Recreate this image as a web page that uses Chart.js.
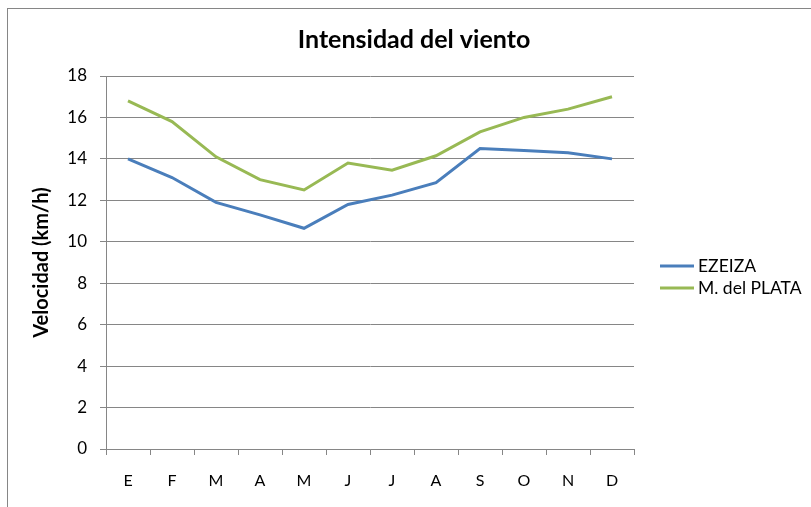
<!DOCTYPE html>
<html>
<head>
<meta charset="utf-8">
<script src="https://cdn.jsdelivr.net/npm/chart.js@4/dist/chart.umd.min.js"></script>
<style>
  html, body { margin: 0; padding: 0; background: #fff; overflow: hidden; }
  #wrap { position: relative; width: 811px; height: 507px; }
  #frame { position: absolute; left: 7px; top: 8px; width: 900px; height: 600px; border: 1px solid #868686; box-sizing: border-box; }
  canvas { position: absolute; left: 0; top: 0; }
</style>
</head>
<body>
<div id="wrap">
  <div id="frame"></div>
  <canvas id="c" width="811" height="507"></canvas>
</div>
<script>
const chartTitle = 'Intensidad del viento';
const yAxisTitle = 'Velocidad (km/h)';
const months = ['E', 'F', 'M', 'A', 'M', 'J', 'J', 'A', 'S', 'O', 'N', 'D'];
const seriesNames = ['EZEIZA', 'M. del PLATA'];
const ezeiza = [14.0, 13.1, 11.9, 11.3, 10.65, 11.8, 12.25, 12.85, 14.5, 14.4, 14.3, 14.0];
const marDelPlata = [16.8, 15.8, 14.1, 13.0, 12.5, 13.8, 13.45, 14.15, 15.3, 16.0, 16.4, 17.0];
const yTicks = [0, 2, 4, 6, 8, 10, 12, 14, 16, 18];

const FONT = 'Lato, "Open Sans", "Liberation Sans", sans-serif';
const GRID = '#868686';
const COLORS = ['#4A7EBB', '#98B954'];

const titlePlugin = {
  id: 'customTitle',
  afterDraw(chart) {
    const ctx = chart.ctx;
    ctx.save();
    ctx.font = 'bold 25px ' + FONT;
    ctx.fillStyle = '#000';
    ctx.textAlign = 'center';
    ctx.textBaseline = 'middle';
    ctx.fillText(chartTitle, 414, 40);
    ctx.restore();
  }
};

const legendPlugin = {
  id: 'customLegend',
  afterDraw(chart) {
    const ctx = chart.ctx;
    ctx.save();
    ctx.font = '17.5px ' + FONT;
    ctx.textBaseline = 'middle';
    ctx.textAlign = 'left';
    chart.data.datasets.forEach((ds, i) => {
      const y = 266 + i * 22;
      ctx.strokeStyle = ds.borderColor;
      ctx.lineWidth = 3;
      ctx.beginPath();
      ctx.moveTo(660, y);
      ctx.lineTo(694, y);
      ctx.stroke();
      ctx.fillStyle = '#000';
      ctx.fillText(ds.label, 698, y);
    });
    ctx.restore();
  }
};

new Chart(document.getElementById('c'), {
  type: 'line',
  data: {
    labels: months,
    datasets: [
      { label: seriesNames[0], data: ezeiza, borderColor: COLORS[0], backgroundColor: COLORS[0], borderWidth: 3, pointRadius: 0, tension: 0 },
      { label: seriesNames[1], data: marDelPlata, borderColor: COLORS[1], backgroundColor: COLORS[1], borderWidth: 3, pointRadius: 0, tension: 0 }
    ]
  },
  options: {
    responsive: false,
    animation: false,
    devicePixelRatio: 1,
    layout: { padding: { top: 76, right: 177, bottom: 0, left: 0 } },
    plugins: {
      legend: { display: false },
      title: { display: false },
      tooltip: { enabled: false }
    },
    scales: {
      x: {
        type: 'category',
        offset: true,
        grid: { offset: true, drawOnChartArea: false, drawTicks: true, tickLength: 6, color: GRID, lineWidth: 1 },
        border: { color: GRID, width: 1 },
        ticks: { color: '#000', font: { family: FONT, size: 16 }, padding: 16, maxRotation: 0, autoSkip: false },
        afterFit(s) { s.height = 58; }
      },
      y: {
        min: 0,
        max: 18,
        afterBuildTicks(s) { s.ticks = yTicks.map(v => ({ value: v })); },
        grid: { color: GRID, lineWidth: 1, drawTicks: true, tickLength: 6 },
        border: { color: GRID, width: 1 },
        ticks: { color: '#000', font: { family: FONT, size: 17 }, padding: 13 },
        title: { display: true, text: yAxisTitle, color: '#000', font: { family: FONT, size: 20, weight: 'bold' }, padding: { top: 30, bottom: 0 } },
        afterFit(s) { s.width = 106; }
      }
    }
  },
  plugins: [titlePlugin, legendPlugin]
});
</script>
</body>
</html>
